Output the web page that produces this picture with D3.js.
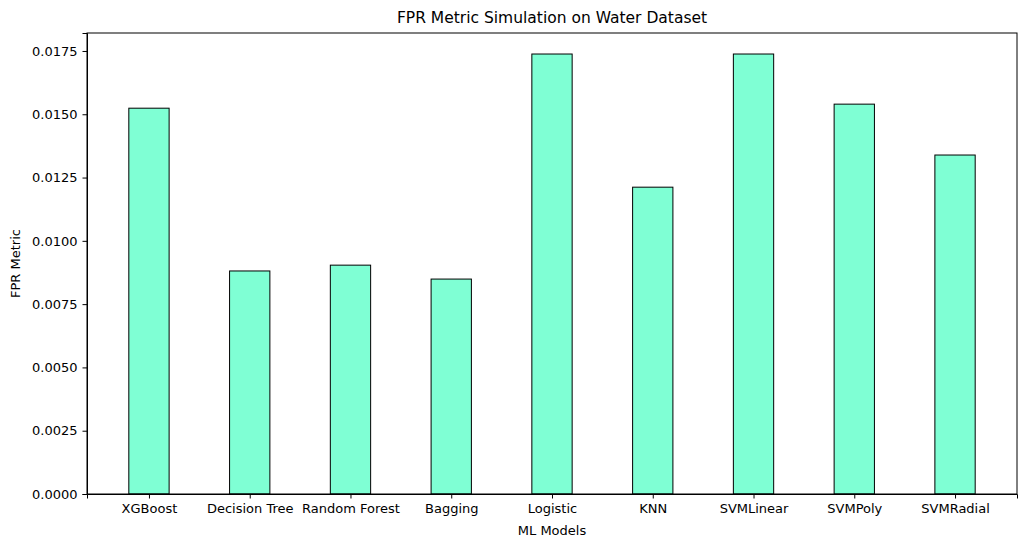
<!DOCTYPE html>
<html><head><meta charset="utf-8">
<script src="https://cdn.jsdelivr.net/npm/d3@7"></script>
<style>body{margin:0;background:#fff}text{font-family:"DejaVu Sans",sans-serif}</style>
</head><body><div id="chart"></div>
<script>
const models = ["XGBoost","Decision Tree","Random Forest","Bagging","Logistic","KNN","SVMLinear","SVMPoly","SVMRadial"];
const fpr = [0.01524,0.00881,0.00904,0.00849,0.01738,0.01212,0.01738,0.01540,0.01339];
const yTicks = [0,0.0025,0.005,0.0075,0.01,0.0125,0.015,0.0175];

const width = 1027, height = 547;
const margin = {top: 33, right: 10, bottom: 53, left: 87};
const svg = d3.select('#chart').append('svg').attr('width', width).attr('height', height);

const x = d3.scaleLinear().domain([-0.615, models.length - 1 + 0.615]).range([margin.left, width - margin.right]);
const y = d3.scaleLinear().domain([0, 0.01821]).range([height - margin.bottom, margin.top]);
const barW = x(0.4) - x(0);

svg.selectAll('rect.bar').data(fpr).join('rect')
  .attr('x', (d, i) => x(i) - barW / 2)
  .attr('y', d => y(d))
  .attr('width', barW)
  .attr('height', d => y(0) - y(d))
  .attr('fill', '#7fffd4')
  .attr('stroke', '#000')
  .attr('stroke-width', 1);

svg.append('g').attr('transform', `translate(0,${height - margin.bottom})`)
  .call(d3.axisBottom(x).tickValues(d3.range(models.length)).tickFormat(i => models[i]).tickSizeOuter(0).tickSize(4.5).tickPadding(5))
  .call(g => g.selectAll('text').attr('font-size', 13).attr('fill', '#000'));

svg.append('g').attr('transform', `translate(${margin.left},0)`)
  .call(d3.axisLeft(y).tickValues(yTicks).tickFormat(d3.format('.4f')).tickSizeOuter(0).tickSize(4.5).tickPadding(5))
  .call(g => g.selectAll('text').attr('font-size', 13).attr('fill', '#000'));

svg.append('rect')
  .attr('x', margin.left).attr('y', margin.top)
  .attr('width', width - margin.left - margin.right)
  .attr('height', height - margin.top - margin.bottom)
  .attr('fill', 'none').attr('stroke', '#000');

svg.append('text').attr('x', (margin.left + width - margin.right) / 2).attr('y', 23)
  .attr('text-anchor', 'middle').attr('font-size', 15.5).text('FPR Metric Simulation on Water Dataset');
svg.append('text').attr('x', (margin.left + width - margin.right) / 2).attr('y', 535)
  .attr('text-anchor', 'middle').attr('font-size', 13).text('ML Models');
svg.append('text').attr('transform', `translate(20,${(margin.top + height - margin.bottom) / 2}) rotate(-90)`)
  .attr('text-anchor', 'middle').attr('font-size', 13).text('FPR Metric');
</script></body></html>
